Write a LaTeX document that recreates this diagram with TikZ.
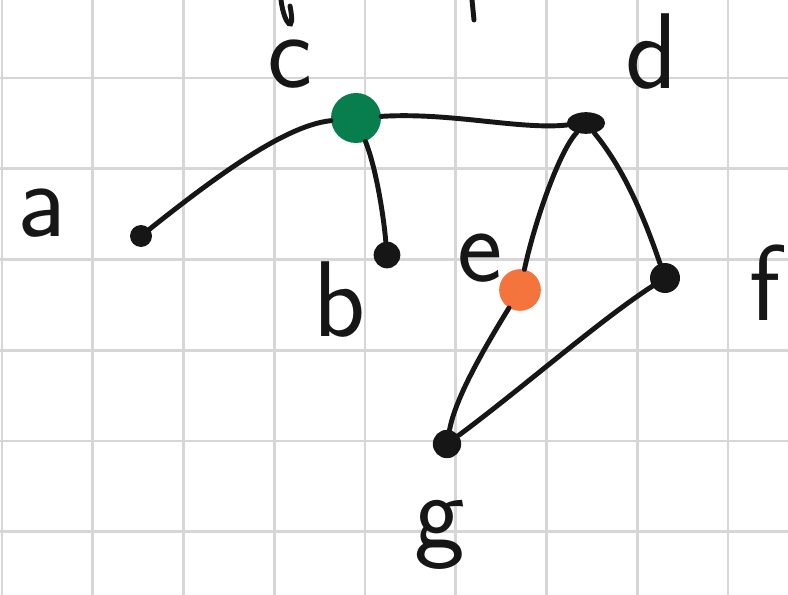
\documentclass[tikz,border=0pt]{standalone}
\usepackage{tikz}
\usetikzlibrary{shapes.geometric}
\definecolor{dotgreen}{RGB}{8,125,78}
\definecolor{dotorange}{RGB}{245,115,60}
\definecolor{gridgray}{RGB}{214,214,214}
\definecolor{ink}{RGB}{22,22,22}

\begin{document}
\begin{tikzpicture}[x=0.03cm, y=-0.03cm,
    dot/.style={circle, fill=ink, inner sep=0pt},
    lbl/.style={font=\sffamily\fontsize{92}{92}\selectfont, text=ink, inner sep=0pt},
    edge/.style={line width=4.2pt, ink, line cap=round}]
    \useasboundingbox (0,0) rectangle (788,595);
    \fill[white] (0,0) rectangle (788,595);
    % grid paper
    \foreach \x in {0,...,8} \draw[gridgray, line width=2.4pt] ({2+90.75*\x},0) -- ({2+90.75*\x},595);
    \foreach \y in {0,...,5} \draw[gridgray, line width=2.4pt] (0,{78+90.75*\y}) -- (788,{78+90.75*\y});

    % vertices
    \node[dot, minimum size=0.66cm] (a) at (141,236) {};
    \node[dot, minimum size=0.8cm] (b) at (387,255) {};
    \node[dot, fill=dotgreen, minimum size=1.5cm] (c) at (356,118) {};
    \node[ellipse, fill=ink, inner sep=0pt, minimum width=1.15cm, minimum height=0.65cm] (d) at (586,123) {};
    \node[dot, fill=dotorange, minimum size=1.25cm] (e) at (520,290) {};
    \node[dot, minimum size=0.9cm] (f) at (665,278) {};
    \node[dot, minimum size=0.85cm] (g) at (447,444) {};

    % labels
    \node[lbl] (la) at (42,213) {a};
    \node[lbl] (lb) at (340,300) {b};
    \node[lbl] (lc) at (290,64) {c};
    \node[lbl] (ld) at (652,52) {d};
    \node[lbl] (le) at (480,258) {e};
    \node[lbl] (lf) at (765,283) {f};
    \node[lbl] (lg) at (440,535) {g};

    % edges
    \draw[edge] (a) .. controls (230,165) and (290,125) .. (c);
    \draw[edge] (c) .. controls (375,165) and (383,210) .. (b);
    \draw[edge] (c) .. controls (450,112) and (520,130) .. (d);
    \draw[edge] (d) .. controls (560,150) and (535,220) .. (e);
    \draw[edge] (d) .. controls (625,170) and (645,220) .. (f);
    \draw[edge] (e) .. controls (480,355) and (455,400) .. (g);
    \draw[edge] (f) .. controls (600,320) and (520,390) .. (g);

    % strokes cut off at the top edge
    \draw[edge] (281,0) .. controls (284,25) and (296,36) .. (290,6);
    \draw[edge] (472,0) -- (474,20);
\end{tikzpicture}
\end{document}
